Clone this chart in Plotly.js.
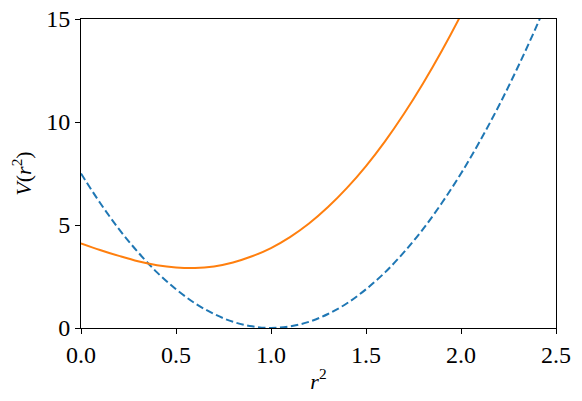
<!DOCTYPE html>
<html>
<head>
<meta charset="utf-8">
<script src="https://cdn.plot.ly/plotly-3.0.1.min.js"></script>
<style>
  html, body { margin: 0; padding: 0; background: #fff; }
  #grafica { width: 582px; height: 401px; }
  #grafica .xtick text, #grafica .ytick text {
    font-family: 'Liberation Serif', serif !important;
    font-size: 24px !important;
  }
  #grafica .g-xtitle text, #grafica .g-ytitle text {
    font-family: 'Liberation Serif', serif !important;
  }
</style>
</head>
<body>
<div id="grafica"></div>
<script>
// valores
var r2 = [0.0, 0.1, 0.2, 0.3, 0.4, 0.5, 0.6, 0.7, 0.8, 0.9, 1.0, 1.1, 1.2, 1.3, 1.4, 1.5, 1.6, 1.7, 1.8, 1.9, 2.0, 2.1, 2.2, 2.3, 2.4, 2.5];
var vPunteada = [7.5, 6.08, 4.8, 3.68, 2.7, 1.88, 1.2, 0.68, 0.3, 0.08, 0.0, 0.08, 0.3, 0.68, 1.2, 1.88, 2.7, 3.68, 4.8, 6.08, 7.5, 9.08, 10.8, 12.68, 14.7, 16.88];
var r2Solida = [0.0, 0.1, 0.2, 0.3, 0.4, 0.5, 0.6, 0.7, 0.8, 0.9, 1.0, 1.1, 1.2, 1.3, 1.4, 1.5, 1.6, 1.7, 1.8, 1.9, 2.0, 2.1];
var vSolida = [4.11, 3.79, 3.5, 3.24, 3.05, 2.94, 2.91, 2.99, 3.18, 3.48, 3.88, 4.41, 5.07, 5.87, 6.8, 7.86, 9.06, 10.4, 11.87, 13.47, 15.2, 17.06];

var fuente = 'Liberation Serif';

var trazas = [
  {
    x: r2, y: vPunteada, type: 'scatter', mode: 'lines',
    line: { color: '#1f77b4', width: 2, dash: '7.5px,3.5px', shape: 'spline', smoothing: 1 },
    hoverinfo: 'none'
  },
  {
    x: r2Solida, y: vSolida, type: 'scatter', mode: 'lines',
    line: { color: '#ff7f0e', width: 2, shape: 'spline', smoothing: 1 },
    hoverinfo: 'none'
  }
];

var layout = {
  width: 582, height: 401,
  margin: { l: 81, r: 26, t: 19, b: 73 },
  paper_bgcolor: '#fff', plot_bgcolor: '#fff',
  showlegend: false,
  font: { family: fuente, size: 24, color: '#000' },
  xaxis: {
    range: [0, 2.5], dtick: 0.5, tick0: 0, tickformat: '.1f',
    showgrid: false, zeroline: false,
    showline: true, linecolor: '#000', linewidth: 1, mirror: true,
    ticks: 'outside', ticklen: 5, tickwidth: 1, tickcolor: '#000',
    tickfont: { family: fuente, size: 24, color: '#000' },
    title: { text: '<i>r</i><sup>2</sup>', font: { family: fuente, size: 22, color: '#000' }, standoff: 6 }
  },
  yaxis: {
    range: [0, 15], dtick: 5, tick0: 0,
    showgrid: false, zeroline: false,
    showline: true, linecolor: '#000', linewidth: 1, mirror: true,
    ticks: 'outside', ticklen: 5, tickwidth: 1, tickcolor: '#000',
    tickfont: { family: fuente, size: 24, color: '#000' },
    title: { text: '<i>V</i>(<i>r</i><sup>2</sup>)', font: { family: fuente, size: 22, color: '#000' }, standoff: 8 }
  }
};

Plotly.newPlot('grafica', trazas, layout, { staticPlot: true, displayModeBar: false });
</script>
</body>
</html>
